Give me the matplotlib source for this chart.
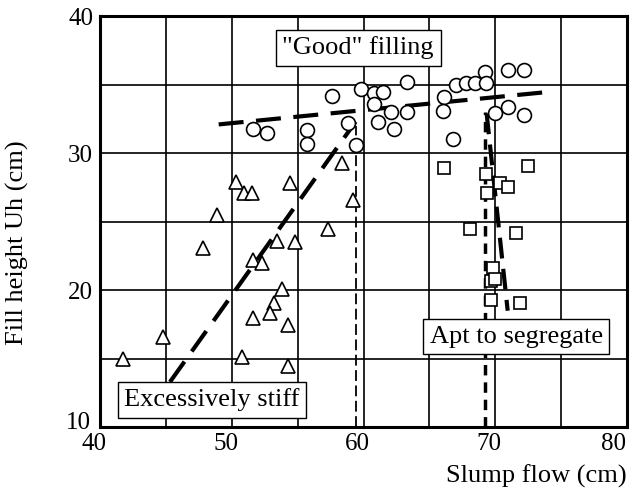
import matplotlib.pyplot as plt
import matplotlib.transforms as mtransforms

plt.rcParams['font.family'] = ['Liberation Serif', 'DejaVu Serif']

# "Good" filling (circles)
good_x = [51.6, 52.7, 55.7, 55.7, 57.6, 59.8, 60.8, 60.8, 58.8, 59.4, 61.1, 61.5, 63.3,
          62.1, 63.3, 62.3, 66.1, 66.0, 66.8, 67.0, 67.8, 68.5, 69.2, 69.3, 71.0, 72.2,
          70.0, 71.0, 72.2]
good_y = [31.75, 31.5, 31.7, 30.7, 34.2, 34.7, 34.4, 33.6, 32.2, 30.6, 32.3, 34.5, 35.2,
          33.0, 33.0, 31.8, 34.1, 33.1, 31.0, 35.0, 35.1, 35.1, 35.9, 35.1, 36.1, 36.1,
          32.9, 33.4, 32.8]

# Excessively stiff (triangles)
stiff_x = [50.3, 50.9, 51.5, 54.4, 48.9, 47.8, 53.4, 54.8, 51.6, 52.3, 53.8, 53.2, 52.9,
           51.6, 54.3, 50.8, 54.3, 41.7, 44.8, 57.3, 59.2, 58.4]
stiff_y = [27.9, 27.1, 27.1, 27.8, 25.5, 23.1, 23.6, 23.5, 22.2, 22.0, 20.1, 19.05, 18.3,
           17.95, 17.45, 15.1, 14.5, 15.0, 16.6, 24.5, 26.6, 29.3]

# Apt to segregate (squares)
seg_x = [66.1, 72.5, 69.3, 70.4, 71.0, 69.4, 68.1, 71.6, 69.8, 69.7, 70.0, 69.7, 71.9]
seg_y = [28.9, 29.05, 28.5, 27.8, 27.5, 27.1, 24.5, 24.2, 21.6, 20.7, 20.8, 19.3, 19.05]

# boundary lines
good_line_x = [49.0, 73.8]
good_line_y = [32.1, 34.45]
stiff_line_x = [45.3, 59.4]
stiff_line_y = [13.3, 32.3]
stiff_limit_x = [59.4, 59.4]
stiff_limit_y = [10, 32.0]
seg_limit_x = [69.2, 69.2]
seg_limit_y = [10, 33.0]
seg_line_x = [69.35, 70.95]
seg_line_y = [32.9, 18.5]

fig = plt.figure(figsize=(6.3, 4.91), dpi=100)
ax = fig.add_axes([0.159, 0.130, 0.836, 0.837])

ax.plot(good_line_x, good_line_y, color='black', lw=3, dashes=(6, 3), zorder=3)
ax.plot(stiff_line_x, stiff_line_y, color='black', lw=3, dashes=(6, 3), zorder=3)
ax.plot(stiff_limit_x, stiff_limit_y, color='black', lw=1.3, dashes=(6, 2.5), zorder=3)
ax.plot(seg_limit_x, seg_limit_y, color='black', lw=2.5, dashes=(3, 2), zorder=3)
ax.plot(seg_line_x, seg_line_y, color='black', lw=3, dashes=(5, 2.5), zorder=3)

ax.plot(good_x, good_y, 'o', ms=10, mfc='white', mec='black', mew=1.2, zorder=4)
ax.plot(stiff_x, stiff_y, '^', ms=10, mfc='white', mec='black', mew=1.2, zorder=4)
ax.plot(seg_x, seg_y, 's', ms=8, mfc='white', mec='black', mew=1.2, zorder=4)

box = dict(boxstyle='square,pad=0.25', fc='white', ec='black', lw=1)
ax.text(59.6, 37.7, '"Good" filling', fontsize=19, ha='center', va='center', bbox=box, zorder=5)
ax.text(48.5, 12.0, 'Excessively stiff', fontsize=19, ha='center', va='center', bbox=box, zorder=5)
ax.text(71.6, 16.6, 'Apt to segregate', fontsize=19, ha='center', va='center', bbox=box, zorder=5)

ax.set_xlim(40, 80)
ax.set_ylim(10, 40)
ax.set_xticks(range(40, 81, 5))
ax.set_yticks(range(10, 41, 5))
ax.set_xticklabels(['40', '', '50', '', '60', '', '70', '', '80'])
ax.set_yticklabels(['10', '', '20', '', '30', '', '40'])
ax.tick_params(length=0, labelsize=18)
ax.tick_params(axis='x', pad=4)
ax.tick_params(axis='y', pad=5)
ax.grid(True, color='black', lw=1.2)
ax.set_axisbelow(True)
for s in ax.spines.values():
    s.set_linewidth(2.2)

# x tick labels sit a little left of their grid lines in the original
xlabs = ax.get_xticklabels()
for i, lab in enumerate(xlabs):
    dx = -13 if i == len(xlabs) - 1 else -6
    shift = mtransforms.ScaledTranslation(dx / 100, 0, fig.dpi_scale_trans)
    lab.set_transform(lab.get_transform() + shift)
# the bottom "10" sits a bit higher so it clears the "40" below it
up = mtransforms.ScaledTranslation(-2 / 100, 7 / 100, fig.dpi_scale_trans)
ylab10 = ax.get_yticklabels()[0]
ylab10.set_transform(ylab10.get_transform() + up)

ax.set_ylabel('Fill height Uh (cm)', fontsize=19)
ax.yaxis.set_label_coords(-0.135, 0.45)
ax.set_xlabel('Slump flow (cm)', fontsize=19, loc='right', labelpad=7)

fig.savefig('out.png', dpi=100)
